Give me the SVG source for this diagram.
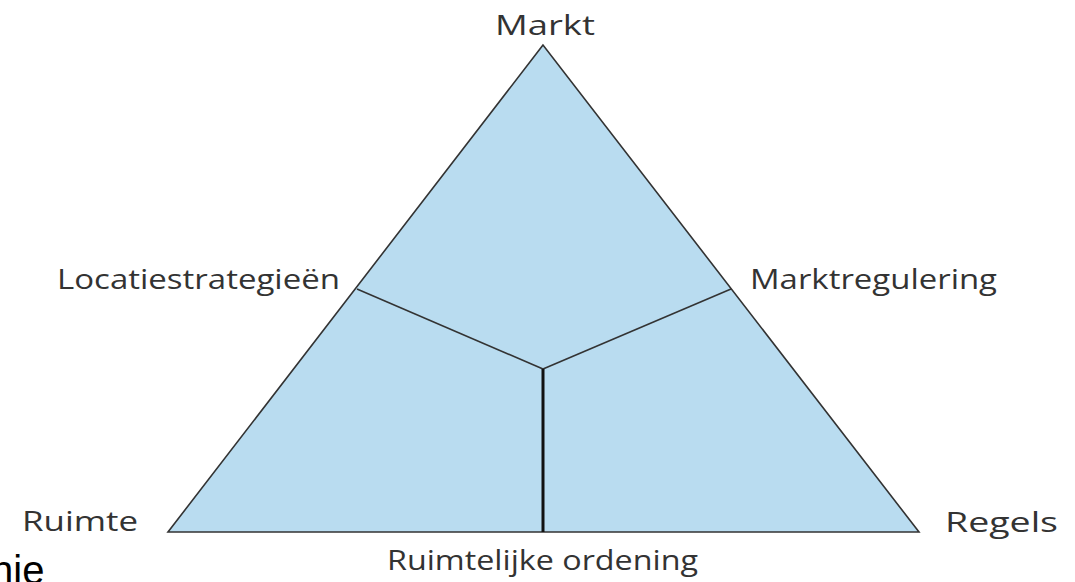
<svg xmlns="http://www.w3.org/2000/svg" width="1075" height="582" viewBox="0 0 1075 582">
  <style>
    .lbl { font-family: "Open Sans", "Liberation Sans", sans-serif; font-size: 27px; fill: #333333; }
    .area { fill: #b9dcf0; stroke: #333333; stroke-width: 1.6; stroke-linejoin: miter; }
    .divider { stroke: #333333; stroke-width: 1.6; fill: none; }
    .stem { stroke: #111111; stroke-width: 3; fill: none; }
  </style>
  <rect width="1075" height="582" fill="#ffffff"/>

  <g id="triangle">
    <polygon class="area" points="543,45 168,532 919,532"/>
  </g>

  <g id="connectors">
    <line class="divider" x1="357" y1="289" x2="543" y2="369"/>
    <line class="divider" x1="731" y1="289" x2="543" y2="369"/>
    <line class="stem" x1="543" y1="369" x2="543" y2="532"/>
  </g>

  <g id="node-markt">
    <text class="lbl" x="495" y="35" textLength="100" lengthAdjust="spacingAndGlyphs">Markt</text>
  </g>
  <g id="node-locatiestrategieen">
    <text class="lbl" x="57" y="289" textLength="283" lengthAdjust="spacingAndGlyphs">Locatiestrategieën</text>
  </g>
  <g id="node-marktregulering">
    <text class="lbl" x="750" y="289" textLength="247" lengthAdjust="spacingAndGlyphs">Marktregulering</text>
  </g>
  <g id="node-ruimte">
    <text class="lbl" x="22" y="531" textLength="116" lengthAdjust="spacingAndGlyphs">Ruimte</text>
  </g>
  <g id="node-regels">
    <text class="lbl" x="945" y="532" textLength="113" lengthAdjust="spacingAndGlyphs">Regels</text>
  </g>
  <g id="node-ruimtelijke-ordening">
    <text class="lbl" x="387" y="570" textLength="311" lengthAdjust="spacingAndGlyphs">Ruimtelijke ordening</text>
  </g>

  <text x="-9" y="584" font-family="Liberation Sans, Arial, sans-serif" font-size="40" fill="#000000">nie</text>
</svg>
